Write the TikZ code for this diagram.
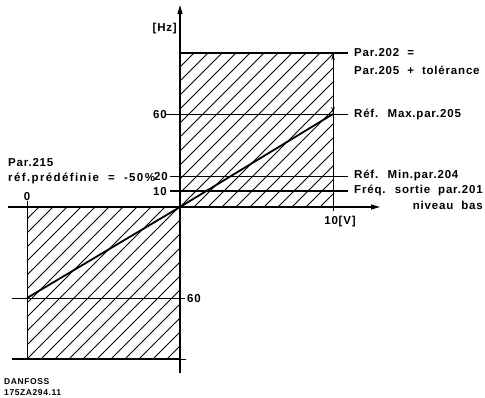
\documentclass[tikz,border=0pt]{standalone}
\usepackage{fontspec}
\setmainfont{Liberation Sans}[LetterSpace=7,WordSpace=2.0]
\usetikzlibrary{arrows.meta}
\begin{document}
\begin{tikzpicture}[x=1pt,y=-1pt,
  lbl/.style={font=\bfseries\fontsize{11.5}{11.5}\selectfont, inner sep=0pt, text height=8.5pt, text depth=0pt},
  small/.style={font=\bfseries\fontsize{8.5}{8.5}\selectfont, inner sep=0pt, text height=6.5pt, text depth=0pt},
  thin/.style={line width=0.9pt},
  thick2/.style={line width=1.8pt},
  axis/.style={line width=1.3pt, -{Triangle[length=9pt,width=5pt]}},
  hatch/.style={line width=0.8pt}]
\useasboundingbox (0,0) rectangle (485,397);
% hatching
\begin{scope}
\clip (180,53) rectangle (333,207);
\foreach \i in {-12,...,12} \draw[hatch] (180+\i*14,207) -- ++(160,-160);
\end{scope}
\begin{scope}
\clip (27,207) rectangle (180,359);
\foreach \i in {-12,...,12} \draw[hatch] (27+\i*14,359) -- ++(160,-160);
\end{scope}
% coordinates
\coordinate (o) at (180,207);
\coordinate (ytop) at (180,5);
\coordinate (ybot) at (180,373);
\coordinate (xl) at (8,207);
\coordinate (xr) at (380,207);
\coordinate (p1) at (27,298);
\coordinate (p2) at (333,114);
% rectangles
\draw[thin] (333,53) -- (333,211);
\draw[thin] (27,201) -- (27,359);
\draw[thick2] (180,53) -- (348,53);
\draw[thick2] (12,359) -- (180,359);
\draw[thin] (180,359) -- (186,359);
% level lines
\draw[thin] (166,114) -- (348,114);
\draw[thin] (170,176) -- (348,176);
\draw[thick2] (170,191) -- (348,191);
\draw[thin] (12,298) -- (185,298);
% axes
\draw[axis] (ybot) -- (ytop);
\draw[axis] (xl) -- (xr);
% characteristic
\draw[thick2] (p1) -- (o) -- (p2);
% double arrow
\draw[thin, {Stealth[length=6pt,width=3.5pt]}-{Stealth[length=6pt,width=3.5pt]}] (333,54) -- (333,113);
% labels
\node[lbl, anchor=east] (hz) at (177,27) {[Hz]};
\node[lbl, anchor=east] (l60) at (167,114) {60};
\node[lbl, anchor=east] (l20) at (168,176) {20};
\node[lbl, anchor=east] (l10) at (167,191) {10};
\node[lbl] (l0) at (27,196) {0};
\node[lbl, anchor=west] (lm60) at (187,298) {60};
\node[lbl] (l10v) at (340,220) {10[V]};
\node[lbl, anchor=west] (par215) at (8,162) {Par.215};
\node[lbl, anchor=west, font=\bfseries\fontsize{11.5}{11.5}\selectfont\addfontfeatures{LetterSpace=12}] (refpre) at (8,177) {réf.prédéfinie = -50\%};
\node[lbl, anchor=west] (p202) at (354,52) {Par.202 =};
\node[lbl, anchor=west] (p205) at (354,70) {Par.205 + tolérance};
\node[lbl, anchor=west] (rmax) at (354,113) {Réf. Max.par.205};
\node[lbl, anchor=west] (rmin) at (354,174) {Réf. Min.par.204};
\node[lbl, anchor=west] (freq) at (354,189) {Fréq. sortie par.201};
\node[lbl, anchor=east] (niv) at (483,205) {niveau bas};
\node[small, anchor=west] (danf) at (4,381) {DANFOSS};
\node[small, anchor=west] (code) at (4,392) {175ZA294.11};
\end{tikzpicture}
\end{document}
